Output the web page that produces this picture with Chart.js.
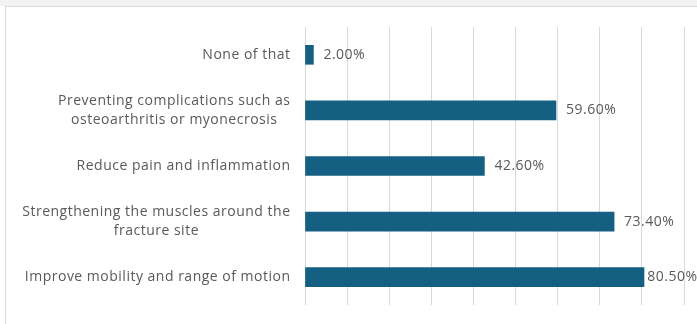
<!DOCTYPE html>
<html>
<head>
<meta charset="utf-8">
<script src="https://cdn.jsdelivr.net/npm/chart.js@4"></script>
<style>
  html, body { margin: 0; padding: 0; background: #f2f2f2; }
  #wrap { position: relative; width: 697px; height: 324px; overflow: hidden; }
  #frame { position: absolute; left: 5px; top: 6px; width: 700px; height: 330px;
           background: #fff; border-left: 1px solid #d9d9d9; border-top: 1px solid #d9d9d9; }
  #strip { position: absolute; left: 0; top: 6px; width: 5px; height: 330px; background: #fff; }
  canvas { position: absolute; left: 0; top: 0; }
</style>
</head>
<body>
<div id="wrap">
  <div id="strip"></div>
  <div id="frame"></div>
  <canvas id="benefitChart" width="697" height="324"></canvas>
</div>
<script>
const categories = [
    'None of that',
    ['Preventing complications such as', 'osteoarthritis or myonecrosis'],
    'Reduce pain and inflammation',
    ['Strengthening the muscles around the', 'fracture site'],
    'Improve mobility and range of motion'
];
const percentValues = [2.00, 59.60, 42.60, 73.40, 80.50];
const axisMax = 90;
const axisStep = 10;

const textColor = '#595959';
const barColor = '#156082';
const fontFamily = '"Open Sans", "Liberation Sans", sans-serif';
const spacing = 0.5;

// 類別標籤 (多行置中, 右側對齊)
const categoryLabels = {
    id: 'categoryLabels',
    afterDraw(chart) {
        const c = chart.ctx;
        const yScale = chart.scales.y;
        const rightEdge = 290;
        const lineGap = 19;
        c.save();
        c.font = '14px ' + fontFamily;
        c.letterSpacing = spacing + 'px';
        c.fillStyle = textColor;
        c.textBaseline = 'middle';
        c.textAlign = 'center';
        categories.forEach((lab, i) => {
            const lines = Array.isArray(lab) ? lab : [lab];
            const maxW = Math.max(...lines.map(l => c.measureText(l).width - spacing));
            const cx = rightEdge - maxW / 2;
            const cy = yScale.getPixelForValue(i);
            const y0 = cy - (lines.length - 1) * lineGap / 2;
            lines.forEach((l, k) => c.fillText(l, cx + spacing / 2, y0 + k * lineGap));
        });
        c.restore();
    }
};

// 數值標籤
const valueLabels = {
    id: 'valueLabels',
    afterDatasetsDraw(chart) {
        const c = chart.ctx;
        const meta = chart.getDatasetMeta(0);
        c.save();
        c.font = '14px ' + fontFamily;
        c.letterSpacing = spacing + 'px';
        c.fillStyle = textColor;
        c.textBaseline = 'middle';
        c.textAlign = 'left';
        meta.data.forEach((bar, i) => {
            const txt = percentValues[i].toFixed(2) + '%';
            const w = c.measureText(txt).width - spacing;
            let x = bar.x + 10;
            if (x + w > chart.width) x = chart.width - w;
            c.fillText(txt, x, bar.y);
        });
        c.restore();
    }
};

const ctx = document.getElementById('benefitChart').getContext('2d');
new Chart(ctx, {
    type: 'bar',
    data: {
        labels: categories,
        datasets: [{
            data: percentValues,
            backgroundColor: barColor,
            barThickness: 19
        }]
    },
    options: {
        indexAxis: 'y',
        responsive: false,
        animation: false,
        layout: { padding: { top: 27, bottom: 19, right: 13, left: 0 } },
        plugins: { legend: { display: false }, tooltip: { enabled: false } },
        scales: {
            x: {
                min: 0,
                max: axisMax,
                ticks: { stepSize: axisStep, display: false },
                grid: { color: '#d9d9d9', drawTicks: false, lineWidth: 1 },
                border: { display: false }
            },
            y: {
                grid: { display: false },
                border: { display: false },
                ticks: { display: false },
                afterFit(scale) { scale.width = 305; }
            }
        }
    },
    plugins: [valueLabels, categoryLabels]
});
</script>
</body>
</html>
